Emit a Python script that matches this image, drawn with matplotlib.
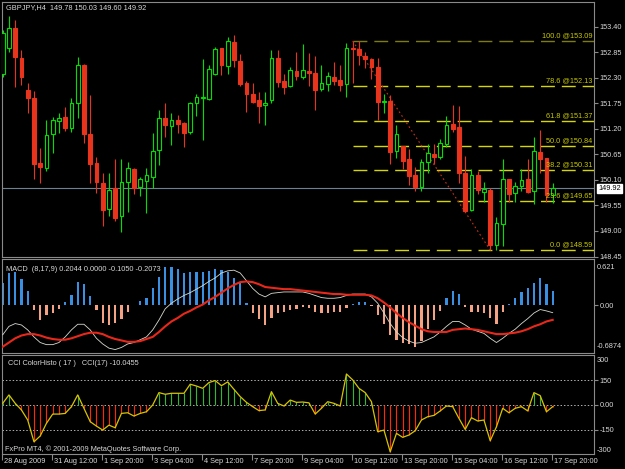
import matplotlib
matplotlib.use('Agg')
import matplotlib.pyplot as plt
from matplotlib.patches import Rectangle
import numpy as np

plt.rcParams['font.family'] = ['Liberation Sans', 'DejaVu Sans']

# ---------------- data ----------------
opens = [152.39, 152.93, 153.36, 152.72, 152.04, 151.87, 150.46, 150.35, 151.09, 151.37,
         151.45, 151.22, 151.75, 152.57, 151.09, 150.47, 150.03, 149.47, 149.92, 149.33,
         150.06, 150.33, 149.95, 150.08, 150.17, 150.74, 151.43, 151.27, 151.39, 151.33,
         151.14, 151.75, 151.86, 151.84, 152.37, 152.93, 152.56, 153.06, 152.66, 152.18,
         151.96, 151.82, 151.71, 151.82, 152.72, 152.23, 152.13, 152.44, 152.32, 152.45,
         152.41, 152.06, 152.16, 152.32, 152.25, 152.16, 152.95, 152.91, 152.77, 152.70,
         152.54, 151.77, 151.80, 150.72, 150.84, 150.54, 150.21, 149.95, 150.49, 150.66,
         150.60, 150.87, 151.30, 151.23, 150.24, 149.45, 150.21, 149.85, 149.88, 148.70,
         149.15, 150.13, 149.81, 149.97, 150.12, 149.86, 150.71, 150.58, 149.78]
highs = [153.33, 153.63, 153.54, 152.90, 152.18, 152.02, 150.78, 151.40, 151.45, 151.53,
         151.66, 151.86, 152.74, 152.59, 151.93, 150.60, 150.24, 150.25, 150.54, 150.54,
         150.49, 150.36, 150.17, 150.35, 151.10, 151.60, 151.75, 151.53, 151.50, 151.35,
         151.78, 151.96, 152.70, 152.57, 152.97, 152.95, 153.18, 153.23, 152.80, 152.23,
         152.18, 152.00, 152.00, 152.90, 152.90, 152.38, 152.54, 152.86, 153.02, 152.83,
         152.77, 152.57, 152.43, 152.64, 152.57, 153.04, 153.09, 153.09, 152.86, 152.72,
         152.72, 151.96, 151.93, 151.28, 150.84, 150.76, 150.38, 150.56, 150.87, 150.87,
         150.99, 151.48, 151.71, 151.69, 150.61, 150.33, 150.30, 150.06, 149.92, 149.31,
         150.56, 150.13, 150.06, 150.33, 150.55, 151.03, 151.17, 150.58, 150.03]
lows = [152.32, 152.86, 152.09, 152.14, 151.53, 150.13, 150.03, 150.30, 150.67, 151.10,
        151.16, 151.14, 151.43, 150.90, 150.03, 149.81, 149.11, 149.32, 149.22, 148.98,
        149.40, 149.80, 149.76, 149.38, 149.92, 150.42, 151.03, 150.85, 151.10, 150.81,
        151.08, 151.47, 150.96, 151.81, 152.36, 152.36, 152.38, 152.54, 152.12, 151.57,
        151.75, 151.32, 151.28, 151.76, 152.09, 151.96, 152.09, 152.24, 152.27, 152.12,
        151.60, 152.02, 152.02, 152.14, 152.02, 151.89, 152.18, 152.57, 152.50, 152.27,
        151.39, 151.53, 150.44, 150.58, 150.33, 149.99, 149.87, 149.87, 150.24, 150.44,
        150.56, 150.81, 151.14, 150.03, 149.41, 149.44, 149.80, 149.63, 148.59, 148.60,
        148.68, 149.63, 149.63, 149.87, 149.82, 149.58, 150.24, 149.63, 149.60]
closes = [153.27, 153.36, 152.74, 152.31, 151.87, 150.44, 150.38, 151.07, 151.40, 151.43,
          151.22, 151.75, 152.57, 151.09, 150.44, 150.06, 149.45, 149.88, 149.29, 150.06,
          150.35, 149.93, 150.13, 150.21, 150.73, 151.43, 151.28, 151.39, 151.30, 151.10,
          151.76, 151.88, 151.88, 152.49, 152.91, 152.57, 153.08, 152.68, 152.16, 151.96,
          151.78, 151.69, 151.75, 152.72, 152.21, 152.11, 152.47, 152.34, 152.47, 152.41,
          152.04, 152.18, 152.34, 152.23, 152.14, 152.95, 152.92, 152.79, 152.70, 152.54,
          151.77, 151.78, 150.69, 151.08, 150.51, 150.19, 149.95, 150.48, 150.67, 150.59,
          150.89, 151.28, 151.20, 150.24, 149.43, 150.21, 149.88, 149.90, 148.70, 149.17,
          150.13, 149.80, 149.97, 150.10, 149.85, 150.72, 150.54, 149.78, 149.92]

macd_hist = [0.313, 0.455, 0.469, 0.374, 0.203, -0.067, -0.209, -0.138, -0.114, -0.053,
             0.051, 0.147, 0.327, 0.299, 0.137, -0.067, -0.256, -0.280, -0.256, -0.199,
             -0.091, 0.010, 0.061, 0.100, 0.242, 0.407, 0.549, 0.549, 0.516, 0.455,
             0.469, 0.469, 0.478, 0.488, 0.516, 0.502, 0.469, 0.393, 0.336, 0.028,
             -0.114, -0.195, -0.280, -0.176, -0.114, -0.100, -0.067, -0.053, -0.028, -0.043,
             -0.100, -0.114, -0.114, -0.100, -0.100, -0.043, 0.018, 0.043, 0.043, -0.010,
             -0.138, -0.270, -0.422, -0.494, -0.541, -0.555, -0.589, -0.508, -0.337, -0.209,
             -0.081, 0.100, 0.203, 0.156, -0.028, -0.091, -0.091, -0.114, -0.185, -0.270,
             -0.100, 0.014, 0.108, 0.185, 0.242, 0.313, 0.384, 0.299, 0.2044]
macd_main = [-0.42, -0.30, -0.26, -0.28, -0.35, -0.45, -0.53, -0.56, -0.56, -0.53,
             -0.45, -0.35, -0.27, -0.27, -0.35, -0.47, -0.55, -0.61, -0.63, -0.60,
             -0.55, -0.53, -0.49, -0.45, -0.35, -0.21, -0.05, 0.03, 0.09, 0.14,
             0.18, 0.23, 0.28, 0.34, 0.39, 0.46, 0.49, 0.50, 0.46, 0.35,
             0.24, 0.16, 0.12, 0.17, 0.18, 0.19, 0.19, 0.19, 0.19, 0.17,
             0.14, 0.11, 0.10, 0.10, 0.11, 0.14, 0.16, 0.16, 0.16, 0.12,
             0.03, -0.11, -0.26, -0.38, -0.46, -0.51, -0.54, -0.53, -0.49, -0.45,
             -0.38, -0.30, -0.23, -0.23, -0.28, -0.34, -0.37, -0.40, -0.47, -0.53,
             -0.47, -0.40, -0.34, -0.26, -0.19, -0.11, -0.06, -0.08, -0.105]
macd_signal = [-0.59, -0.53, -0.47, -0.43, -0.41, -0.41, -0.43, -0.46, -0.48, -0.49,
               -0.49, -0.47, -0.44, -0.41, -0.39, -0.39, -0.41, -0.45, -0.48, -0.50,
               -0.52, -0.52, -0.51, -0.48, -0.45, -0.38, -0.30, -0.23, -0.18, -0.12,
               -0.08, -0.03, 0.01, 0.07, 0.12, 0.18, 0.24, 0.29, 0.33, 0.34,
               0.33, 0.30, 0.26, 0.25, 0.24, 0.23, 0.23, 0.22, 0.21, 0.20,
               0.19, 0.18, 0.17, 0.16, 0.16, 0.15, 0.15, 0.15, 0.15, 0.14,
               0.10, 0.04, -0.03, -0.11, -0.18, -0.24, -0.29, -0.34, -0.37, -0.38,
               -0.38, -0.38, -0.35, -0.34, -0.33, -0.34, -0.35, -0.37, -0.39, -0.41,
               -0.41, -0.40, -0.39, -0.37, -0.34, -0.30, -0.27, -0.23, -0.2073]

cci = [10, 61, 10, -30, -91, -223, -188, -111, -55, -55,
       -51, -10, 61, -20, -101, -128, -152, -122, -138, -51,
       -47, -67, -51, -41, 0, 75, 65, 71, 71, 71,
       126, 115, 101, 136, 148, 117, 140, 95, 51, 16,
       -10, -34, -30, 81, 10, -6, 30, 16, 18, 13,
       -55, -20, 20, 10, -6, 188, 152, 101, 75, 20,
       -162, -152, -284, -172, -196, -182, -156, -91, -71, -63,
       -36, -6, -10, -81, -148, -77, -97, -91, -217, -132,
       -20, -47, -20, -10, -36, 75, 57, -41, -10.05]

price_ticks = [153.40, 152.85, 152.30, 151.75, 151.20, 150.65, 150.10, 149.55, 149.00, 148.45]
fib_levels = ['0.0', '23.6', '38.2', '50.0', '61.8', '78.6', '100.0']
fib_prices = [148.59, 149.65, 150.31, 150.84, 151.37, 152.13, 153.09]
fib_start_bar = 56
fib_end_bar = 78
bid_price = 149.92
time_labels = ['28 Aug 2009', '31 Aug 12:00', '1 Sep 20:00', '3 Sep 04:00', '4 Sep 12:00',
               '7 Sep 20:00', '9 Sep 04:00', '10 Sep 12:00', '13 Sep 20:00', '15 Sep 04:00',
               '16 Sep 12:00', '17 Sep 20:00']
label_step = 8

# ---------------- layout ----------------
W, H = 625, 469
fig = plt.figure(figsize=(W / 100, H / 100), dpi=100, facecolor='black')
BORDER = '#8a8a8a'
TXT = '#d8d8d8'
FS = 5.3
PX_PER_BAR = 6.25
X0 = 2.7  # pixel of bar 0


def add_ax(x0, y0, x1, y1):
    ax = fig.add_axes([x0 / W, 1 - y1 / H, (x1 - x0) / W, (y1 - y0) / H], facecolor='black')
    for s in ax.spines.values():
        s.set_color(BORDER)
        s.set_linewidth(0.8)
    ax.set_xlim((2 - X0) / PX_PER_BAR, (594 - X0) / PX_PER_BAR)
    ax.set_xticks([])
    return ax


def ftext(x, y, s, **kw):
    kw.setdefault('color', TXT)
    kw.setdefault('fontsize', FS)
    kw.setdefault('va', 'center')
    fig.text(x / W, 1 - y / H, s, **kw)


idx = np.arange(len(opens))

# ---------------- main price panel ----------------
ax = add_ax(2, 2, 594, 257)
ax.set_ylim(148.44, 153.93)

bull_c = '#00e000'
bear_c = '#e8341c'
for i in idx:
    o, h, l, c = opens[i], highs[i], lows[i], closes[i]
    up = c >= o
    col = bull_c if up else bear_c
    ax.vlines(i, l, h, color=col, lw=0.8, zorder=2)
    bot = min(o, c)
    ht = max(abs(c - o), 0.02)
    ax.add_patch(Rectangle((i - 0.31, bot), 0.62, ht,
                           facecolor='black' if up else bear_c,
                           edgecolor=col, lw=0.8, zorder=3))

# bid line
ax.axhline(bid_price, color='#6f8090', lw=0.8, zorder=1)

# fibonacci
xr = (594 - X0) / PX_PER_BAR
for lev, pr in zip(fib_levels, fib_prices):
    c = '#7c7c10' if lev == '100.0' else '#d6d600'
    ax.plot([fib_start_bar, xr], [pr, pr], color=c, lw=1.0, dashes=(10, 5), zorder=1)
    ax.annotate(f'{lev} @{pr:.2f}', xy=((592 - X0) / PX_PER_BAR, pr), xytext=(0, 1),
                textcoords='offset points', ha='right', va='bottom', color='#c8c800',
                fontsize=FS, zorder=4)
ax.plot([fib_start_bar, fib_end_bar], [fib_prices[-1], fib_prices[0]], color='#d03010',
        lw=0.8, ls=(0, (1.5, 2.5)), zorder=1)

ax.yaxis.tick_right()
ax.set_yticks(price_ticks)
ax.set_yticklabels([f'{p:.2f}' for p in price_ticks])
ax.tick_params(axis='y', colors=BORDER, labelcolor=TXT, labelsize=FS, length=3, width=0.8, pad=1)

ax.annotate(f'{bid_price:.2f}', xy=(1.0, bid_price), xycoords=('axes fraction', 'data'),
            xytext=(3, 0), textcoords='offset points', ha='left', va='center',
            fontsize=FS, color='black',
            bbox=dict(boxstyle='square,pad=0.15', facecolor='white', edgecolor='white'))

ftext(6, 8, 'GBPJPY,H4  149.78 150.03 149.60 149.92')

# ---------------- MACD panel ----------------
ax2 = add_ax(2, 259, 594, 353)
ax2.set_ylim(-0.679, 0.659)
hist_cols = ['#3a8fe2' if v > 0 else '#f5a183' for v in macd_hist]
ax2.bar(idx, macd_hist, width=0.34, color=hist_cols, zorder=2)
ax2.plot(idx, macd_main, color='#d8d8d0', lw=0.6, zorder=3)
ax2.plot(idx, macd_signal, color='#e8281a', lw=1.5, zorder=3)
ax2.yaxis.tick_right()
ax2.set_yticks([0.0])
ax2.set_yticklabels(['0.00'])
ax2.tick_params(axis='y', colors=BORDER, labelcolor=TXT, labelsize=FS, length=3, width=0.8, pad=1)
ftext(597, 267, '0.621')
ftext(597, 346.5, '-0.6874')
ftext(6, 269.5, 'MACD  (8,17,9) 0.2044 0.0000 -0.1050 -0.2073')

# ---------------- CCI panel ----------------
ax3 = add_ax(2, 355, 594, 454)
ax3.set_ylim(-297, 303)
cci_cols = ['#ff2a00' if v < 0 else '#30b830' for v in cci]
ax3.vlines(idx, 0, cci, colors=cci_cols, lw=0.8, zorder=2)
for lv in (150, 0, -150):
    ax3.axhline(lv, color='#b0b0b0', lw=0.7, ls=(0, (1.5, 2)), zorder=1)
ax3.plot(idx, cci, color='#d8c400', lw=0.9, zorder=3)
ax3.yaxis.tick_right()
ax3.set_yticks([150, 0, -150])
ax3.set_yticklabels(['150', '0.00', '-150'])
ax3.tick_params(axis='y', colors=BORDER, labelcolor=TXT, labelsize=FS, length=3, width=0.8, pad=1)
ftext(597, 360.7, '300')
ftext(597, 450, '-300')
ftext(8, 363.5, 'CCI ColorHisto ( 17 )   CCI(17) -10.0455')
ftext(5, 449, 'FxPro MT4, \u00a9 2001-2009 MetaQuotes Software Corp.')

# time axis
ax3.set_xticks(idx[::label_step][:len(time_labels)] - 0.11)
ax3.set_xticklabels([])
ax3.tick_params(axis='x', colors=BORDER, length=4, width=0.8)
for k, lab in enumerate(time_labels):
    xpix = X0 + PX_PER_BAR * (k * label_step) - 0.7
    ftext(xpix + 2, 461.5, lab, ha='left')

fig.savefig('out.png', dpi=100, facecolor='black')
